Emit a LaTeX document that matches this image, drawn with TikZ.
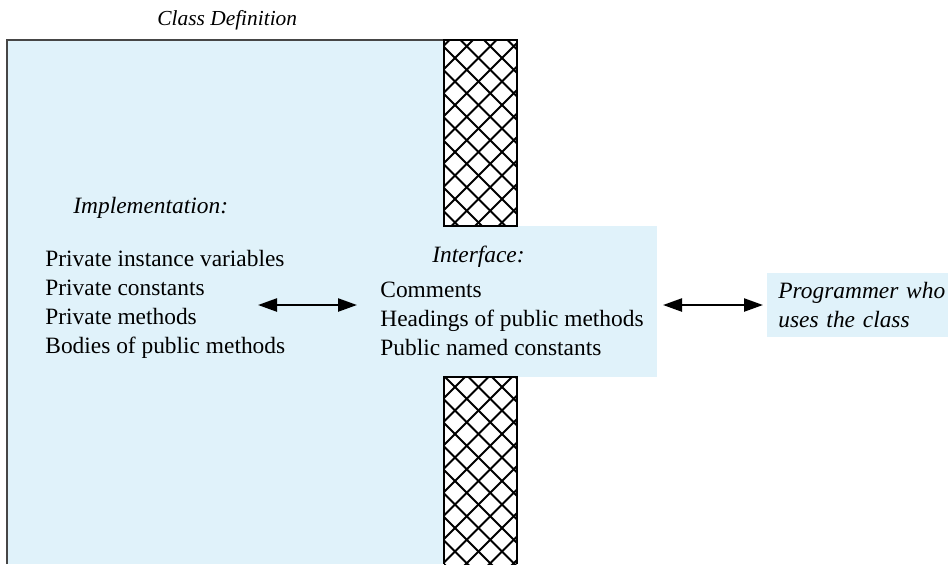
\documentclass[tikz,border=0pt]{standalone}
\usepackage{fontspec}
\setmainfont{Liberation Serif}
\usetikzlibrary{positioning,arrows.meta}
\definecolor{paleblue}{RGB}{224,242,250}
\definecolor{edgegray}{RGB}{70,70,70}
\tikzset{
  txt/.style   ={font=\fontsize{11.7}{14.4}\selectfont, inner sep=0pt, align=left, anchor=base west},
  ttl/.style   ={txt, font=\fontsize{11.7}{14.4}\selectfont\itshape},
  dar/.style   ={{Triangle[length=9.5pt,width=6.5pt]}-{Triangle[length=9.5pt,width=6.5pt]}, line width=1.2pt},
  hatchln/.style={line width=1pt},
  hatchedge/.style={line width=0.8pt},
}
\begin{document}
\begin{tikzpicture}[x=0.5pt,y=-0.5pt]
\useasboundingbox (0,0) rectangle (948,564);
% coloured areas
\fill[paleblue] (7,40) rectangle (444,564);
\fill[paleblue] (444,226) rectangle (657,377);
\draw[edgegray,line width=0.9pt] (7,564) -- (7,40) -- (444,40);

% hatched wall, top and bottom part
\foreach \y/\h in {40/226,377/564}{
  \begin{scope}
    \clip (444,\y) rectangle (517,\h);
    \foreach \k in {-26,...,32}{
      \draw[hatchln] ({397+23.5*\k},0) -- ++(700,700);
      \draw[hatchln] ({513+23.5*\k},0) -- ++(-700,700);
    }
  \end{scope}
}
\draw[hatchedge] (444,40) rectangle (517,226);
\draw[hatchedge] (444,564) -- (444,377) -- (517,377) -- (517,564);

\node[ttl,font=\fontsize{10.7}{13}\selectfont\itshape] (cdef) at (157,25) {Class Definition};

\node[ttl] (impl) at (73,213) {Implementation:};
\node[txt] (implist) at (45,353) {Private instance variables\\ Private constants\\ Private methods\\ Bodies of public methods};

\node[ttl] (iface) at (432,262) {Interface:};
\node[txt] (ifacelist) at (380,355) {Comments\\ Headings of public methods\\ Public named constants};

\node[fill=paleblue, anchor=west, minimum height=32pt, text width=86pt, inner xsep=5.5pt,
      font=\fontsize{11.7}{14.2}\selectfont\itshape, align=left] (prog) at (767,305)
      {Programmer who\\ uses the class};

\coordinate (implR) at (258,305);
\coordinate (ifaceL) at (357,305);
\coordinate (ifaceR) at (663,305);
\draw[dar] (implR) -- (ifaceL);
\draw[dar,shorten >=2pt] (ifaceR) -- (prog.west);
\end{tikzpicture}
\end{document}
